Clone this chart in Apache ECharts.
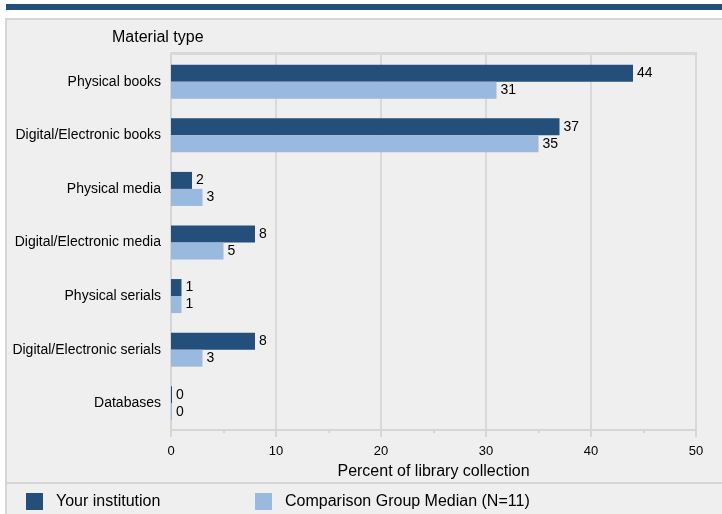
<!DOCTYPE html>
<html><head><meta charset="utf-8">
<script src="https://cdn.jsdelivr.net/npm/echarts@6/dist/echarts.min.js"></script>
<style>html,body{margin:0;padding:0;background:#fff}#c{width:722px;height:514px}</style>
</head><body><div id="c"></div>
<script>
const categories = ['Physical books','Digital/Electronic books','Physical media','Digital/Electronic media','Physical serials','Digital/Electronic serials','Databases'];
const yourInstitution = [44,37,2,8,1,8,0];
const comparisonMedian = [31,35,3,5,1,3,0];
const xTicks = [0,10,20,30,40,50];

const font = 'Liberation Sans, Arial, sans-serif';
const chart = echarts.init(document.getElementById('c'));
chart.setOption({
  animation:false,
  backgroundColor:'#fff',
  graphic:[
    {type:'rect',shape:{x:6,y:4,width:716,height:6},style:{fill:'#254f7b'},z:-10},
    {type:'rect',shape:{x:6,y:19,width:720,height:500},style:{fill:'#efefef',stroke:'#d6d6d6',lineWidth:2},z:-10},
    {type:'line',shape:{x1:6,y1:483,x2:722,y2:483},style:{stroke:'#d6d6d6',lineWidth:2},z:-9},
    {type:'rect',shape:{x:170,y:52,width:527,height:3},style:{fill:'#d9d9d9'},z:-5},
    {type:'text',left:112,top:30,style:{text:'Material type',font:'16px '+font,fill:'#000'}}
  ],
  grid:{left:171,right:26,top:55,bottom:84},
  legend:[
    {data:['Your institution'],left:21,top:488,itemWidth:17,itemHeight:17,icon:'rect',
     textStyle:{fontSize:16,fontFamily:font,color:'#000',padding:[2,0,0,8]}},
    {data:['Comparison Group Median (N=11)'],left:250,top:488,itemWidth:17,itemHeight:17,icon:'rect',
     textStyle:{fontSize:16,fontFamily:font,color:'#000',padding:[2,0,0,8]}}
  ],
  xAxis:{type:'value',min:xTicks[0],max:xTicks[xTicks.length-1],interval:10,
    name:'Percent of library collection',nameLocation:'middle',nameGap:34,
    nameTextStyle:{fontSize:16,fontFamily:font,color:'#000'},
    axisLine:{show:true,lineStyle:{color:'#d6d6d6',width:2}},
    axisTick:{show:true,length:7,lineStyle:{color:'#d6d6d6',width:2}},
    minorTick:{show:true,splitNumber:2,length:3,lineStyle:{color:'#d6d6d6',width:2}},
    splitLine:{show:true,lineStyle:{color:'#d9d9d9',width:2}},
    axisLabel:{fontSize:13,fontFamily:font,color:'#000',margin:15}},
  yAxis:{type:'category',data:categories,inverse:true,
    axisLine:{show:true,lineStyle:{color:'#d6d6d6',width:2}},
    axisTick:{show:false},
    axisLabel:{fontSize:14,fontFamily:font,color:'#000',margin:10}},
  series:[
    {name:'Your institution',type:'bar',data:yourInstitution,barGap:'0%',barCategoryGap:'36.5%',barMinHeight:1,
     itemStyle:{color:'#254f7b'},label:{show:true,position:'right',distance:4,fontSize:14,fontFamily:font,color:'#000'}},
    {name:'Comparison Group Median (N=11)',type:'bar',data:comparisonMedian,barMinHeight:1,
     itemStyle:{color:'#9ab9de'},label:{show:true,position:'right',distance:4,fontSize:14,fontFamily:font,color:'#000'}}
  ]
});
</script></body></html>
